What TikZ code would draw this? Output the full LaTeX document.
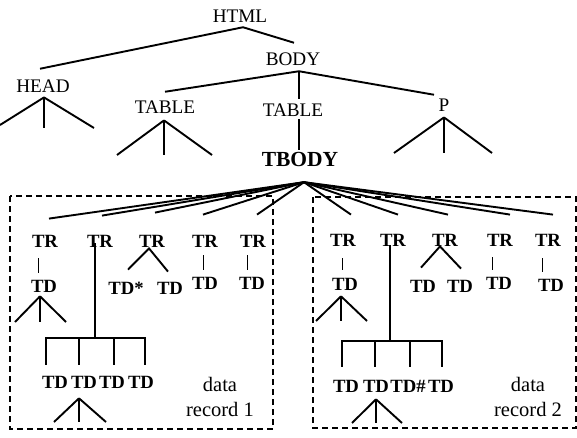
\documentclass[tikz,border=0pt]{standalone}
\usepackage{fontspec}
\setmainfont{Liberation Serif}
\usepackage{tikz}

\tikzset{
  tag/.style={inner sep=0pt, text height=12.7pt, text depth=0pt, font=\fontsize{19.2}{19.2}\selectfont},
  btag/.style={inner sep=0pt, text height=12.4pt, text depth=0pt, font=\fontsize{18.7}{18.7}\selectfont\bfseries},
  branch/.style={line width=1.9pt},
  twig/.style={line width=0.9pt},
  recbox/.style={line width=1.8pt, dash pattern=on 6pt off 4pt},
  recnote/.style={align=center, inner sep=0pt, font=\fontsize{20.5}{25}\selectfont}
}

\begin{document}
\begin{tikzpicture}[x=1pt, y=-1pt]
  \useasboundingbox (0,0) rectangle (577,438);

  % upper part of the tree
  \node[tag] (html) at (240,16) {HTML};
  \node[tag] (body) at (293,59) {BODY};
  \node[tag] (head) at (43,86) {HEAD};
  \node[tag] (tablea) at (165,107) {TABLE};
  \node[tag] (tableb) at (293,110) {TABLE};
  \node[tag] (para) at (444,105) {P};
  \node[btag, text height=14.4pt, font=\fontsize{21.5}{21.5}\selectfont\bfseries] (tbody) at (300,159) {TBODY};

  \draw[branch] ([xshift=-3pt,yshift=10.7pt]head.north) -- ([xshift=3pt,yshift=-4.7pt]html.south)
    -- ([xshift=1pt,yshift=9.7pt]body.north);
  \draw[branch] ([yshift=8.7pt]tablea.north) -- ([xshift=6pt,yshift=-5.7pt]body.south)
    -- ([xshift=-10pt,yshift=3.7pt]para.north);
  \draw[branch] ([xshift=6pt,yshift=-5.7pt]body.south) -- ([xshift=6pt,yshift=4.7pt]tableb.north);
  \draw[branch] ([xshift=6pt,yshift=-2.7pt]tableb.south) -- ([xshift=-1pt,yshift=2pt]tbody.north);

  % data record 1
  \node[btag] (tr11) at (45,241) {TR};
  \node[btag] (tr12) at (100,241) {TR};
  \node[btag] (tr13) at (152,241) {TR};
  \node[btag] (tr14) at (205,241) {TR};
  \node[btag] (tr15) at (253,241) {TR};
  \node[btag] (td11) at (44,286) {TD};
  \node[btag] (td13a) at (126,288) {TD*};
  \node[btag] (td13b) at (170,288) {TD};
  \node[btag] (td14) at (205,283) {TD};
  \node[btag] (td15) at (252,283) {TD};
  \node[btag] (td12a) at (55,382) {TD};
  \node[btag] (td12b) at (84,382) {TD};
  \node[btag] (td12c) at (112,382) {TD};
  \node[btag] (td12d) at (141,382) {TD};
  \node[recnote] (rec1) at (220,397) {data\\record 1};

  % data record 2
  \node[btag] (tr21) at (343,240) {TR};
  \node[btag] (tr22) at (393,240) {TR};
  \node[btag] (tr23) at (445,240) {TR};
  \node[btag] (tr24) at (500,240) {TR};
  \node[btag] (tr25) at (548,240) {TR};
  \node[btag] (td21) at (345,284) {TD};
  \node[btag] (td23a) at (423,286) {TD};
  \node[btag] (td23b) at (460,286) {TD};
  \node[btag] (td24) at (499,283) {TD};
  \node[btag] (td25) at (551,285) {TD};
  \node[btag] (td22a) at (346,386) {TD};
  \node[btag] (td22b) at (376,386) {TD};
  \node[btag] (td22c) at (408,386) {TD\#};
  \node[btag] (td22d) at (441,386) {TD};
  \node[recnote] (rec2) at (528,397) {data\\record 2};

  \draw[recbox] (10,196) rectangle (273,429);
  \draw[recbox] (313,197) rectangle (576,428);

  % TBODY fans out to the rows
  \foreach \n/\dx/\dy in {tr11/4/16, tr12/2/19, tr13/3/22, tr14/-2/20, tr15/4/20,
                          tr21/8/19, tr22/5/19, tr23/3/19, tr24/10/19, tr25/5/19}
    \draw[branch] ([xshift=4pt,yshift=-15.8pt]tbody.south) -- ([xshift=\dx pt,yshift=\dy pt]\n.north);

  % rows with a single cell
  \foreach \a/\b/\dxa/\dya/\dxb/\dyb in {tr11/td11/-7/11/-6/7, tr14/td14/-2/8/-2/7, tr15/td15/-6/8/-5/7,
                                        tr21/td21/-1/12/-3/8, tr24/td24/-8/11/-7/7, tr25/td25/-6/12/-9/7}
    \draw[twig] ([xshift=\dxa pt,yshift=-\dya pt]\a.south) -- ([xshift=\dxb pt,yshift=\dyb pt]\b.north);

  % rows with two cells
  \draw[branch] ([xshift=2pt,yshift=12pt]td13a.north) -- ([xshift=-3pt,yshift=-1pt]tr13.south)
    -- ([xshift=-2pt,yshift=10pt]td13b.north);
  \draw[branch] ([xshift=-2pt,yshift=12pt]td23a.north) -- ([xshift=-5pt]tr23.south)
    -- ([xshift=1pt,yshift=11pt]td23b.north);

  % rows with four cells
  \draw[branch] ([xshift=-5pt,yshift=4pt]tr12.south) -- ([xshift=-5pt,yshift=-91pt]tr12.south);
  \draw[branch] ([xshift=-9pt,yshift=11pt]td12a.north) -- ([xshift=-9pt,yshift=38pt]td12a.north)
    -- ([xshift=4pt,yshift=38pt]td12d.north) -- ([xshift=4pt,yshift=11pt]td12d.north);
  \foreach \n/\dx in {td12b/-5, td12c/2}
    \draw[branch] ([xshift=\dx pt,yshift=11pt]\n.north) -- ([xshift=\dx pt,yshift=38pt]\n.north);

  \draw[branch] ([xshift=-3pt,yshift=1pt]tr22.south) -- ([xshift=-3pt,yshift=-95pt]tr22.south);
  \draw[branch] ([xshift=-4pt,yshift=13pt]td22a.north) -- ([xshift=-4pt,yshift=39pt]td22a.north)
    -- ([xshift=1pt,yshift=39pt]td22d.north) -- ([xshift=1pt,yshift=13pt]td22d.north);
  \foreach \n/\dx in {td22b/-1, td22c/2}
    \draw[branch] ([xshift=\dx pt,yshift=13pt]\n.north) -- ([xshift=\dx pt,yshift=39pt]\n.north);

  % collapsed subtrees
  \coordinate (head-1) at (0,125);   \coordinate (head-2) at (44,128);   \coordinate (head-3) at (94,128);
  \coordinate (tablea-1) at (117,155); \coordinate (tablea-2) at (164,155); \coordinate (tablea-3) at (212,155);
  \coordinate (para-1) at (394,153); \coordinate (para-2) at (444,153); \coordinate (para-3) at (492,153);
  \coordinate (td11-1) at (15,322);  \coordinate (td11-2) at (40,322);  \coordinate (td11-3) at (66,322);
  \coordinate (td12b-1) at (54,422); \coordinate (td12b-2) at (79,422); \coordinate (td12b-3) at (106,422);
  \coordinate (td21-1) at (316,321); \coordinate (td21-2) at (341,321); \coordinate (td21-3) at (367,321);
  \coordinate (td22b-1) at (352,423); \coordinate (td22b-2) at (376,423); \coordinate (td22b-3) at (402,423);

  \foreach \n/\dx/\dy in {head/1/4.85, tablea/-1/6.85, para/0/5.85, td11/-4/3.9,
                          td12b/-5/9.9, td21/-4/5.9, td22b/0/6.9}
    \foreach \k in {1,2,3}
      \draw[branch] ([xshift=\dx pt,yshift=-\dy pt]\n.south) -- (\n-\k);
\end{tikzpicture}
\end{document}
